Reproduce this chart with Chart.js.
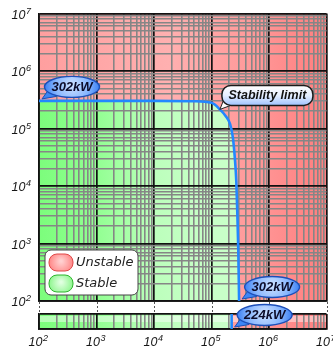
<!DOCTYPE html>
<html><head><meta charset="utf-8">
<script src="https://cdn.jsdelivr.net/npm/chart.js@4.4.0/dist/chart.umd.min.js"></script>
<style>
html,body{margin:0;padding:0;background:#fff;}
#wrap{position:relative;width:333px;height:347px;}
#wrap canvas{position:absolute;left:0;top:0;}
</style></head><body>
<div id="wrap"><canvas id="main" width="333" height="347"></canvas><canvas id="strip" width="333" height="347"></canvas></div>
<script>
// Stability limit: output power (kW) against load power (kW)
const limitX = [100, 10000, 50000, 100000, 140000, 180000, 210000, 235000, 255000, 270000, 282000, 292000, 302000];
const limitY = [302000, 302000, 298000, 280000, 215000, 160000, 120000, 70000, 30000, 12000, 3000, 800, 100];
// Lower band of the broken axis: limit drops at 224 kW
const stripX = [224000, 224000];
const stripY = [1, 0];
// Axis decades (10^n) and gridline multipliers
const decades = [2, 3, 4, 5, 6, 7];
const steps = [1, 2, 3, 4, 5, 6, 7, 8, 9];
const legendLabels = ['Unstable', 'Stable'];
const calloutText = 'Stability limit';

function logTicks() {
  const t = [];
  decades.forEach((e, i) => {
    (i === decades.length - 1 ? [1] : steps).forEach(s => t.push({value: s * Math.pow(10, e), major: s === 1}));
  });
  return t;
}

const gridStyle = {
  color: c => (c.tick && c.tick.major) ? '#111' : '#868686',
  lineWidth: c => (c.tick && c.tick.major) ? 1.7 : 1.6,
  drawTicks: false
};

function redFill(ctx, a) {
  const g = ctx.createLinearGradient(a.left, 0, a.right, 0);
  g.addColorStop(0, '#ff9f9f');
  g.addColorStop(0.45, '#ffb0b0');
  g.addColorStop(0.72, '#ff9b9b');
  g.addColorStop(1, '#ff7e7e');
  return g;
}
function greenFill(ctx, a) {
  const g = ctx.createLinearGradient(a.left, 0, a.right, 0);
  g.addColorStop(0, '#7cfd7c');
  g.addColorStop(0.2, '#92ff92');
  g.addColorStop(0.4, '#bcffbc');
  g.addColorStop(0.6, '#c8ffc8');
  g.addColorStop(1, '#c8ffc8');
  return g;
}

// Red everywhere in the plot, green under the limit curve
const zones = {
  id: 'zones',
  beforeDraw(chart) {
    const {ctx, chartArea: a} = chart;
    ctx.save();
    ctx.fillStyle = redFill(ctx, a);
    ctx.fillRect(a.left, a.top, a.width, a.height);
    const line = chart.getDatasetMeta(0).dataset;
    line.updateControlPoints(a, 'x');
    ctx.beginPath();
    line.path(ctx);
    ctx.lineTo(a.left, a.bottom);
    ctx.lineTo(a.left, a.top);
    ctx.closePath();
    ctx.fillStyle = greenFill(ctx, a);
    ctx.fill();
    ctx.restore();
  }
};

function powerLabel(ctx, x, y, exp, align) {
  ctx.save();
  ctx.fillStyle = '#161616';
  ctx.textBaseline = 'alphabetic';
  ctx.font = 'italic 12.5px "Liberation Sans"';
  const w1 = ctx.measureText('10').width;
  ctx.font = 'italic 9px "Liberation Sans"';
  const w2 = ctx.measureText(String(exp)).width;
  let x0 = align === 'right' ? x - w1 - w2 - 0.5 : x - (w1 + w2) / 2;
  ctx.font = 'italic 12.5px "Liberation Sans"';
  ctx.fillText('10', x0, y);
  ctx.font = 'italic 9px "Liberation Sans"';
  ctx.fillText(String(exp), x0 + w1 + 0.5, y - 5);
  ctx.restore();
}

function pill(ctx, ax, ay, text) {
  const cx = ax + 33, cy = ay - 14, rx = 27.5, ry = 10.5;
  ctx.save();
  // pointer
  ctx.beginPath();
  ctx.moveTo(ax + 3, ay - 2);
  ctx.lineTo(cx - rx + 4, cy + 3);
  ctx.lineTo(cx - rx + 12, cy + ry - 1);
  ctx.closePath();
  ctx.fillStyle = '#3d86f5';
  ctx.fill();
  ctx.strokeStyle = '#1c4fb5';
  ctx.lineWidth = 1;
  ctx.stroke();
  // body
  ctx.beginPath();
  ctx.ellipse(cx, cy, rx, ry, 0, 0, Math.PI * 2);
  const g = ctx.createRadialGradient(cx, cy - 2, 2, cx, cy, rx);
  g.addColorStop(0, '#c4dcff');
  g.addColorStop(0.55, '#8ab8ff');
  g.addColorStop(1, '#3b80f2');
  ctx.fillStyle = g;
  ctx.fill();
  ctx.lineWidth = 1.4;
  ctx.strokeStyle = '#1d4fb8';
  ctx.stroke();
  ctx.fillStyle = '#0c0c2a';
  ctx.font = 'italic bold 13px "Liberation Sans"';
  ctx.textAlign = 'center';
  ctx.textBaseline = 'middle';
  ctx.fillText(text, cx, cy + 0.5);
  ctx.restore();
}

function roundRect(ctx, x, y, w, h, r) {
  ctx.beginPath();
  ctx.moveTo(x + r, y);
  ctx.arcTo(x + w, y, x + w, y + h, r);
  ctx.arcTo(x + w, y + h, x, y + h, r);
  ctx.arcTo(x, y + h, x, y, r);
  ctx.arcTo(x, y, x + w, y, r);
  ctx.closePath();
}

const decor = {
  id: 'decor',
  afterDraw(chart) {
    const {ctx, scales: {x, y}} = chart;
    // y-axis labels
    decades.forEach(e => powerLabel(ctx, 31, y.getPixelForValue(Math.pow(10, e)) + 5, e, 'right'));
    // callout on the limit curve
    const ax = x.getPixelForValue(limitX[4]), ay = y.getPixelForValue(limitY[4]);
    const bx = ax + 2, by = ay - 24, bw = 91, bh = 20;
    ctx.save();
    ctx.beginPath();
    ctx.moveTo(ax, ay);
    ctx.lineTo(bx + 2, by + bh - 6);
    ctx.lineTo(bx + 9, by + bh);
    ctx.closePath();
    ctx.fillStyle = '#fff';
    ctx.fill();
    ctx.strokeStyle = '#222';
    ctx.lineWidth = 1;
    ctx.stroke();
    roundRect(ctx, bx, by, bw, bh, 9);
    const g = ctx.createLinearGradient(0, by, 0, by + bh);
    g.addColorStop(0, '#ffffff');
    g.addColorStop(0.5, '#e6efff');
    g.addColorStop(1, '#9fc2ff');
    ctx.fillStyle = g;
    ctx.fill();
    ctx.lineWidth = 1.5;
    ctx.strokeStyle = '#1a1a1a';
    ctx.stroke();
    ctx.fillStyle = '#111';
    ctx.font = 'italic bold 12.5px "Liberation Sans"';
    ctx.textAlign = 'center';
    ctx.textBaseline = 'middle';
    ctx.fillText(calloutText, bx + bw / 2, by + bh / 2 + 0.5);
    ctx.restore();
    // value labels
    pill(ctx, x.getPixelForValue(limitX[0]), y.getPixelForValue(limitY[0]), Math.round(limitY[0] / 1000) + 'kW');
    const n = limitX.length - 1;
    pill(ctx, x.getPixelForValue(limitX[n]), y.getPixelForValue(limitY[n]), Math.round(limitX[n] / 1000) + 'kW');
    // legend
    const lx = 45, ly = 250;
    ctx.save();
    roundRect(ctx, lx, ly, 93, 45, 6);
    ctx.fillStyle = '#fff';
    ctx.fill();
    ctx.lineWidth = 1;
    ctx.strokeStyle = '#444';
    ctx.stroke();
    const sw = [['#ffd0d0', '#ff8080', '#e04848'], ['#e0ffe0', '#86f586', '#2fb52f']];
    legendLabels.forEach((lab, i) => {
      const sy = ly + 4 + i * 21;
      roundRect(ctx, lx + 4, sy, 24, 17, 8);
      const gg = ctx.createRadialGradient(lx + 16, sy + 7, 1, lx + 16, sy + 9, 13);
      gg.addColorStop(0, sw[i][0]);
      gg.addColorStop(1, sw[i][1]);
      ctx.fillStyle = gg;
      ctx.fill();
      ctx.strokeStyle = sw[i][2];
      ctx.lineWidth = 1;
      ctx.stroke();
      ctx.fillStyle = '#222';
      ctx.font = 'italic 13px "DejaVu Sans"';
      ctx.textBaseline = 'middle';
      ctx.fillText(lab, lx + 31, sy + 9);
    });
    ctx.restore();
  }
};

const stripZones = {
  id: 'stripZones',
  beforeDraw(chart) {
    const {ctx, chartArea: a} = chart;
    ctx.save();
    ctx.fillStyle = redFill(ctx, a);
    ctx.fillRect(a.left, a.top, a.width, a.height);
    const line = chart.getDatasetMeta(0).dataset;
    ctx.beginPath();
    line.path(ctx);
    ctx.lineTo(a.left, a.bottom);
    ctx.lineTo(a.left, a.top);
    ctx.closePath();
    ctx.fillStyle = greenFill(ctx, a);
    ctx.fill();
    // glossy band along the top of the band
    ctx.fillStyle = 'rgba(255,255,255,0.45)';
    ctx.fillRect(a.left, a.top + 2, a.width, 6);
    ctx.restore();
  }
};

const stripDecor = {
  id: 'stripDecor',
  afterDraw(chart) {
    const {ctx, scales: {x}, chartArea: a} = chart;
    ctx.save();
    ctx.strokeStyle = '#555';
    ctx.lineWidth = 1;
    ctx.setLineDash([2, 2]);
    decades.forEach(e => {
      const px = Math.round(x.getPixelForValue(Math.pow(10, e))) + 0.5;
      ctx.beginPath();
      ctx.moveTo(px, 302);
      ctx.lineTo(px, a.top - 1);
      ctx.stroke();
    });
    ctx.restore();
    decades.forEach(e => powerLabel(ctx, x.getPixelForValue(Math.pow(10, e)) - 1, 346, e, 'center'));
    pill(ctx, x.getPixelForValue(stripX[1]), a.bottom, Math.round(stripX[1] / 1000) + 'kW');
  }
};

const xScale = (extra) => Object.assign({
  type: 'logarithmic', min: 100, max: 1e7,
  afterBuildTicks: s => { s.ticks = logTicks(); },
  ticks: {display: false},
  grid: gridStyle,
  border: {color: '#111', width: 1.7}
}, extra);

new Chart(document.getElementById('main'), {
  type: 'line',
  data: {datasets: [{
    data: limitX.map((v, i) => ({x: v, y: limitY[i]})),
    borderColor: '#2288ff', borderWidth: 2.6, pointRadius: 0,
    cubicInterpolationMode: 'monotone', fill: false
  }]},
  options: {
    responsive: false, animation: false, devicePixelRatio: 1,
    layout: {padding: {top: 13.5, right: 6.5, bottom: 46, left: 0}},
    plugins: {legend: {display: false}, tooltip: {enabled: false}},
    scales: {
      x: xScale({afterFit: s => { s.height = 0; }}),
      y: {
        type: 'logarithmic', min: 100, max: 1e7,
        afterBuildTicks: s => { s.ticks = logTicks(); },
        afterFit: s => { s.width = 39; },
        ticks: {display: false},
        grid: gridStyle,
        border: {color: '#111', width: 1.7}
      }
    }
  },
  plugins: [zones, decor]
});

new Chart(document.getElementById('strip'), {
  type: 'line',
  data: {datasets: [{
    data: stripX.map((v, i) => ({x: v, y: stripY[i]})),
    borderColor: '#2288ff', borderWidth: 2.6, pointRadius: 0, tension: 0, fill: false
  }]},
  options: {
    responsive: false, animation: false, devicePixelRatio: 1,
    layout: {padding: {top: 314, right: 6.5, bottom: 0, left: 0}},
    plugins: {legend: {display: false}, tooltip: {enabled: false}},
    scales: {
      x: xScale({afterFit: s => { s.height = 18; }}),
      y: {
        type: 'linear', min: 0, max: 1,
        afterBuildTicks: s => { s.ticks = [{value: 0, major: true}, {value: 1, major: true}]; },
        afterFit: s => { s.width = 39; },
        ticks: {display: false},
        grid: gridStyle,
        border: {color: '#111', width: 1.7}
      }
    }
  },
  plugins: [stripZones, stripDecor]
});
</script>
</body></html>
